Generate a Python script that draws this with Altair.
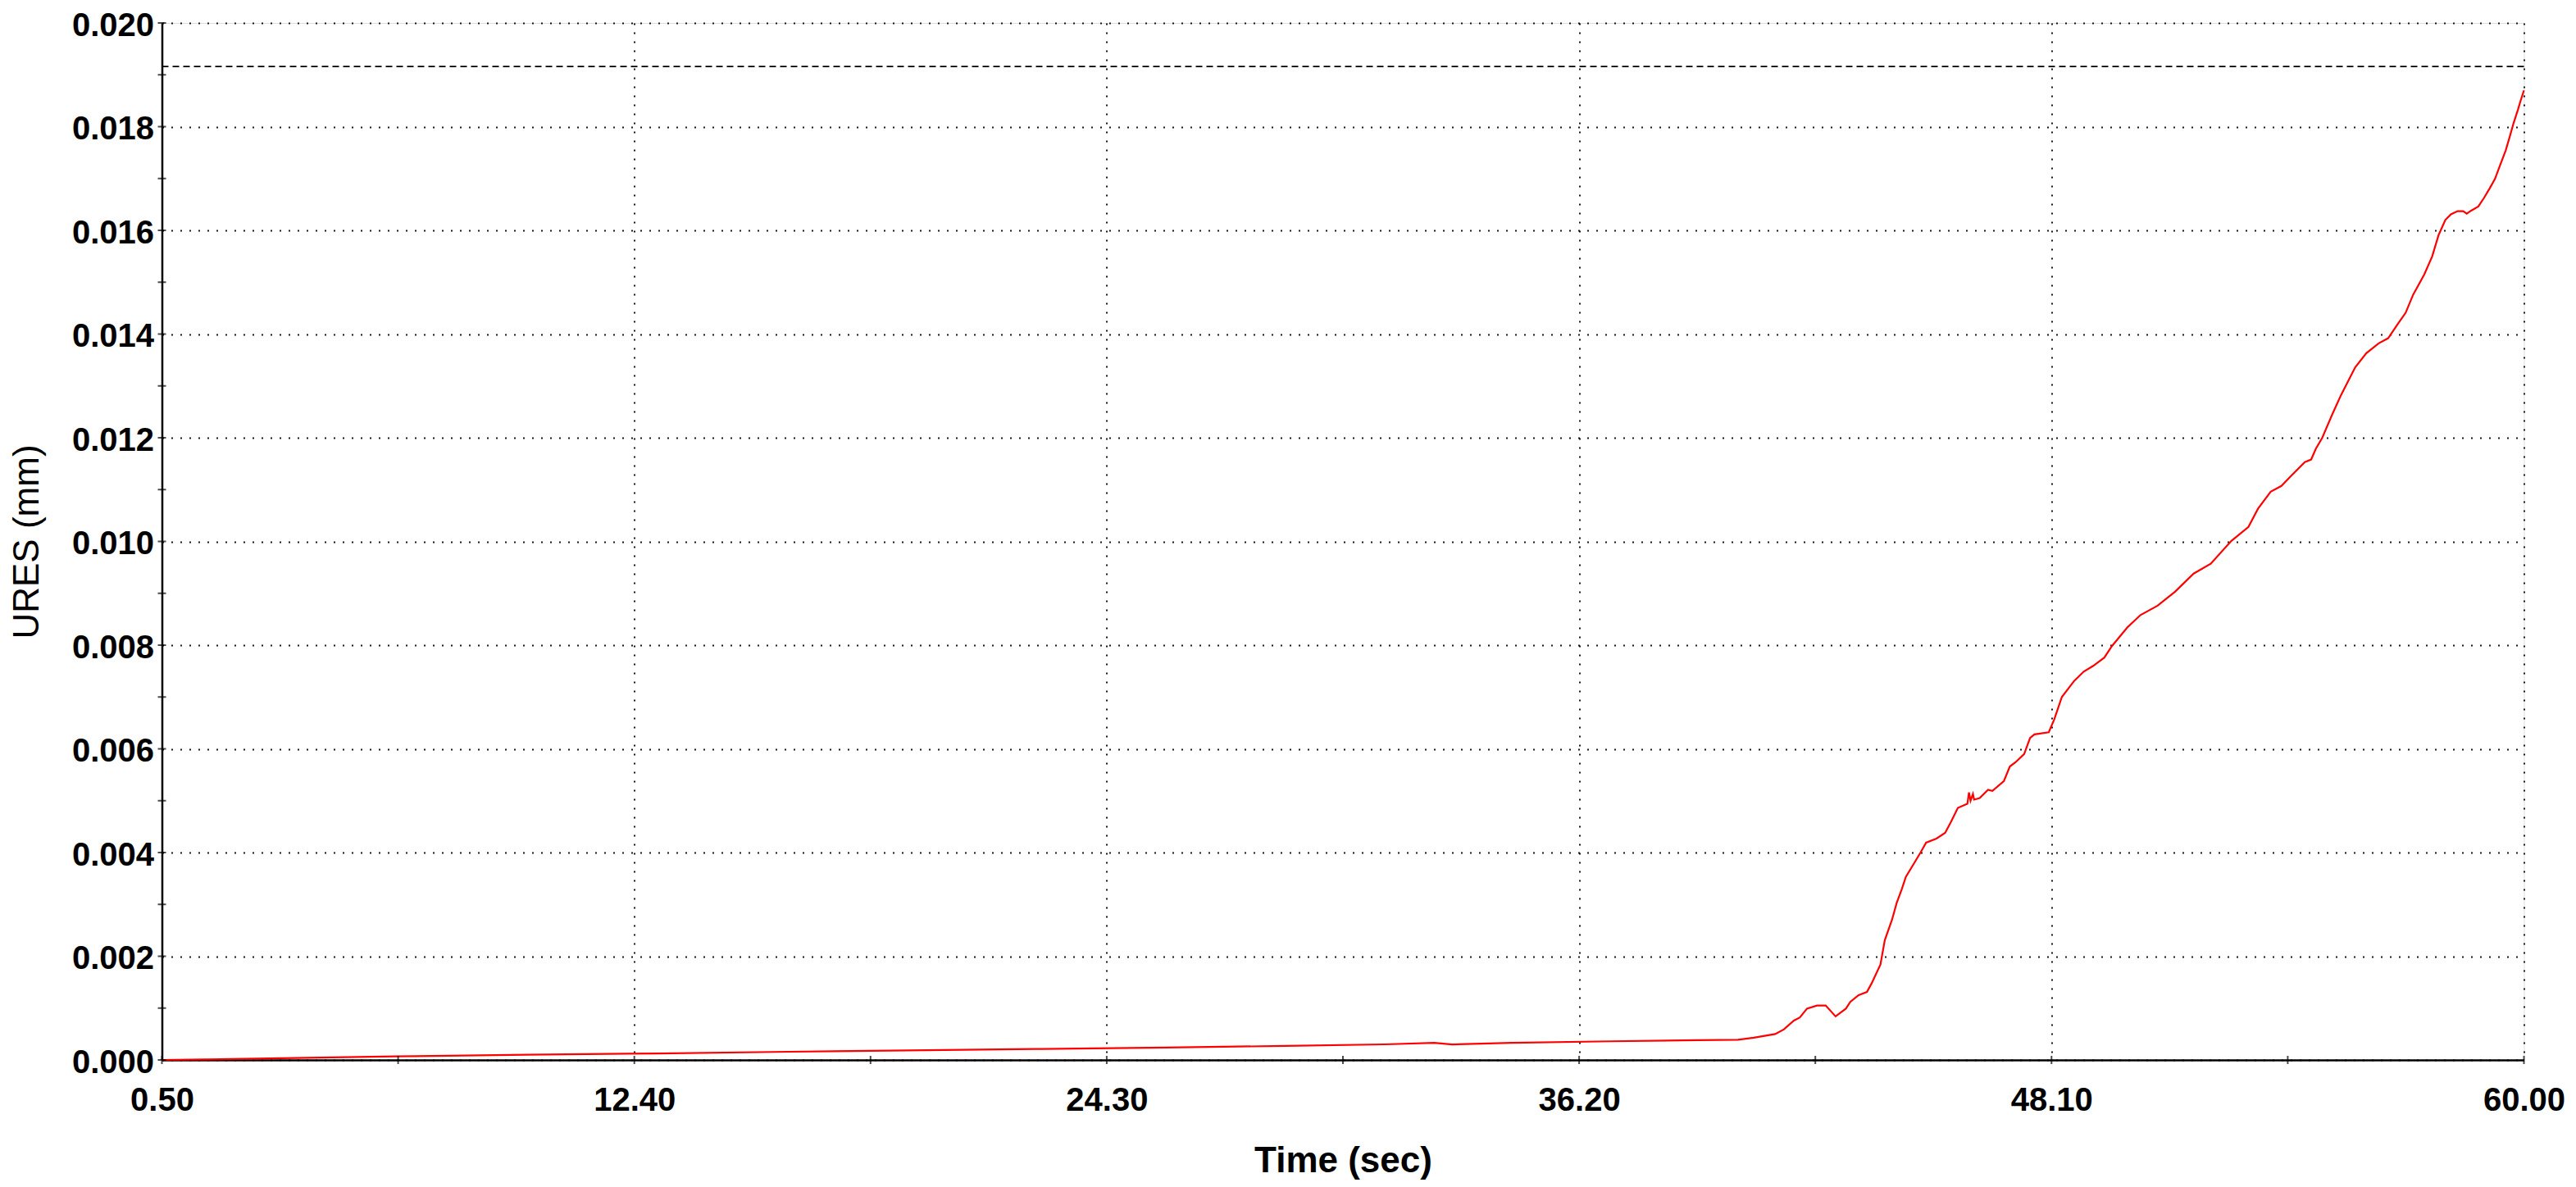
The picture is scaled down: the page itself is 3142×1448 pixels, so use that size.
import altair as alt
import pandas as pd

# --- data ---
time_s = [0.5, 1.6, 3.2, 6.4, 9.7, 13.0, 16.3, 19.3, 22.5, 25.8, 28.8, 31.3, 32.55, 33.0, 34.5,
          37.0, 39.2, 40.2, 40.6, 41.14, 41.36, 41.61, 41.76, 41.94, 42.19, 42.41, 42.66, 42.92,
          43.03, 43.24, 43.45, 43.57, 43.79, 43.90, 44.08, 44.2, 44.33, 44.43, 44.62, 44.8,
          44.94, 45.2, 45.42, 45.56, 45.74, 45.98, 46.02, 46.06, 46.12, 46.15, 46.29, 46.5,
          46.61, 46.9, 47.05, 47.19, 47.41, 47.56, 47.67, 48.03, 48.17, 48.36, 48.67, 48.91,
          49.15, 49.43, 49.62, 50.02, 50.34, 50.77, 51.21, 51.68, 52.11, 52.63, 53.06, 53.3,
          53.62, 53.89, 54.13, 54.48, 54.64, 54.76, 54.92, 55.16, 55.39, 55.55, 55.75, 56.03,
          56.34, 56.58, 56.82, 57.02, 57.21, 57.49, 57.69, 57.85, 58.02, 58.16, 58.33, 58.47,
          58.56, 58.67, 58.85, 58.99, 59.13, 59.27, 59.41, 59.54, 59.64, 59.74, 59.85, 59.92, 60.0]
ures_mm = [0.0, 0.00001, 0.00003, 0.000068, 0.0001, 0.000126, 0.000158, 0.000184, 0.00021,
           0.00024, 0.00027, 0.0003, 0.00033, 0.0003, 0.00033, 0.00036, 0.00038, 0.00039,
           0.00043, 0.0005, 0.00059, 0.00076, 0.00082, 0.00099, 0.00105, 0.00105, 0.00084,
           0.00099, 0.00112, 0.00125, 0.00131, 0.00148, 0.00184, 0.00231, 0.0027, 0.00303,
           0.0033, 0.00353, 0.00377, 0.004, 0.00419, 0.00427, 0.00438, 0.00458, 0.00486,
           0.00494, 0.00516, 0.00500, 0.00513, 0.00502, 0.00505, 0.00521, 0.00519, 0.00538,
           0.00566, 0.00574, 0.0059, 0.00621, 0.00628, 0.00632, 0.00657, 0.007, 0.00731,
           0.00749, 0.0076, 0.00776, 0.00798, 0.00835, 0.00858, 0.00876, 0.00903, 0.00938,
           0.00957, 0.01001, 0.01028, 0.01063, 0.01096, 0.01107, 0.01126, 0.01153, 0.01158,
           0.01179, 0.012, 0.01243, 0.01282, 0.01306, 0.01336, 0.01363, 0.01382, 0.01392,
           0.01419, 0.01441, 0.01476, 0.01515, 0.0155, 0.01591, 0.0162, 0.01631, 0.01637,
           0.01637, 0.01632, 0.01638, 0.01646, 0.01662, 0.0168, 0.01699, 0.01728, 0.01754,
           0.0178, 0.01807, 0.01833, 0.01851, 0.0187]

limit_value = [0.01916]

x_major = [0.5, 12.4, 24.3, 36.2, 48.1, 60.0]
x_minor = [6.45, 18.35, 30.25, 42.15, 54.05]
y_major = [0.000, 0.002, 0.004, 0.006, 0.008, 0.010, 0.012, 0.014, 0.016, 0.018, 0.020]
y_minor = [0.001, 0.003, 0.005, 0.007, 0.009, 0.011, 0.013, 0.015, 0.017, 0.019]

FONT = "Liberation Sans"

df = pd.DataFrame({"t": time_s, "u": ures_mm})
xticks_df = pd.DataFrame({"t": x_major + x_minor})
yticks_df = pd.DataFrame({"u": y_major + y_minor})
limit_df = pd.DataFrame({"u": limit_value})

xscale = alt.Scale(domain=[0.5, 60.0], nice=False, zero=False)
yscale = alt.Scale(domain=[0.0, 0.020], nice=False, zero=False)

xaxis = alt.Axis(
    values=x_major, format=".2f", title="Time (sec)",
    grid=True, gridColor="black", gridDash=[2, 9], gridWidth=2, gridOpacity=0.9,
    ticks=False, domain=True, domainColor="black", domainWidth=2.5,
    labelFont=FONT, labelFontSize=40, labelFontWeight="bold", labelColor="black",
    labelPadding=29, labelFlush=False, labelOverlap=False,
    titleFont=FONT, titleFontSize=44, titleFontWeight="bold", titleColor="black",
    titleY=136, titleBaseline="alphabetic",
)
yaxis = alt.Axis(
    values=y_major, format=".3f", title="URES (mm)",
    grid=True, gridColor="black", gridDash=[2, 9], gridWidth=2, gridOpacity=0.9,
    ticks=False, domain=True, domainColor="black", domainWidth=2.5,
    labelFont=FONT, labelFontSize=40, labelFontWeight="bold", labelColor="black",
    labelPadding=10, labelOffset=3, labelFlush=False, labelOverlap=False,
    titleFont=FONT, titleFontSize=44, titleFontWeight="normal", titleColor="black",
    titleX=-164, titleY=632.5, titleAngle=-90, titleBaseline="middle", titleAlign="center",
)

line = alt.Chart(df).mark_line(color="#ff0000", strokeWidth=2.2, interpolate="linear").encode(
    x=alt.X("t:Q", scale=xscale, axis=xaxis),
    y=alt.Y("u:Q", scale=yscale, axis=yaxis),
)

limit = alt.Chart(limit_df).mark_rule(color="black", strokeWidth=1.6, strokeDash=[8, 5]).encode(
    y=alt.Y("u:Q", scale=yscale),
)

xticks = alt.Chart(xticks_df).mark_tick(orient="vertical", color="black", size=10, thickness=2).encode(
    x=alt.X("t:Q", scale=xscale),
    y=alt.datum(0.0),
)
yticks = alt.Chart(yticks_df).mark_tick(orient="horizontal", color="black", size=10, thickness=2).encode(
    y=alt.Y("u:Q", scale=yscale),
    x=alt.datum(0.5),
)

chart = alt.layer(limit, line, xticks, yticks).properties(
    width=2881, height=1265,
    autosize=alt.AutoSizeParams(type="none"),
    padding={"left": 189.5, "top": 20, "right": 55, "bottom": 146},
).configure_view(stroke=None).configure(background="white")

chart.save("out.html", embed_options={"renderer": "svg", "actions": False})
